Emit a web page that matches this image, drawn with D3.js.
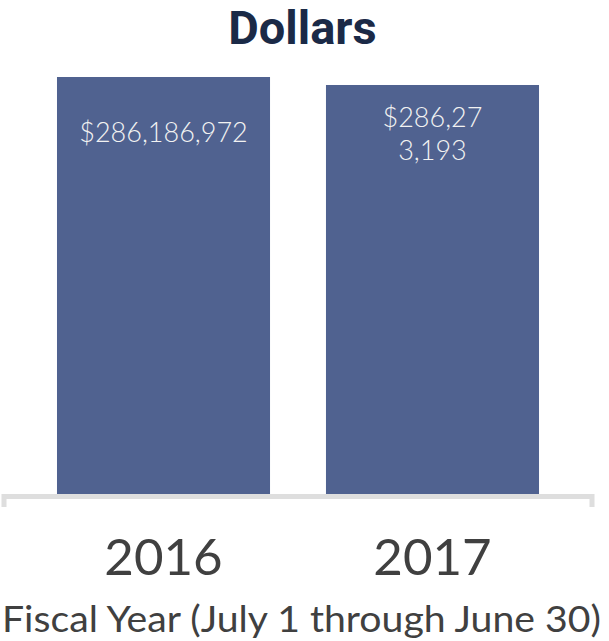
<!DOCTYPE html>
<html>
<head>
<meta charset="utf-8">
<script src="https://cdn.jsdelivr.net/npm/d3@7"></script>
<style>
  html, body { margin: 0; padding: 0; background: #ffffff; }
  svg { display: block; }
</style>
</head>
<body>
<svg id="chart" width="609" height="641"></svg>
<script>
// ---- data ----
const categories = ["2016", "2017"];
// bar heights
const barValues = [286186972, 280700000];
// data labels shown on the bars (line-wrapped as in the original)
const barLabels = [["$286,186,972"], ["$286,27", "3,193"]];
const chartTitle = "Dollars";
const axisTitle = "Fiscal Year (July 1 through June 30)";

// ---- layout ----
const baseY = 494, topY = 77;
const svg = d3.select("#chart");

const x = d3.scaleBand()
  .domain(categories)
  .range([4, 592])
  .paddingInner(0.208)
  .paddingOuter(0.197);

const y = d3.scaleLinear()
  .domain([0, d3.max(barValues)])
  .range([baseY, topY]);

const data = categories.map((c, i) => ({ c, v: barValues[i], lab: barLabels[i] }));

// title
svg.append("text")
  .attr("x", 302.5)
  .attr("y", 44)
  .attr("text-anchor", "middle")
  .attr("font-family", "Roboto, sans-serif")
  .attr("font-weight", 700)
  .attr("font-size", 47)
  .attr("fill", "#1b2a47")
  .text(chartTitle);

// bars
svg.append("g").selectAll("rect")
  .data(data)
  .join("rect")
  .attr("x", d => x(d.c))
  .attr("width", x.bandwidth())
  .attr("y", d => y(d.v))
  .attr("height", d => baseY - y(d.v))
  .attr("fill", "#506290");

// axis line with end ticks
const x0 = x.range()[0], x1 = x.range()[1];
svg.append("path")
  .attr("d", `M${x0},507 V496.5 H${x1} V507`)
  .attr("fill", "none")
  .attr("stroke", "#dedede")
  .attr("stroke-width", 5)
  .attr("stroke-linejoin", "miter");

// data labels
const lbl = svg.append("g").selectAll("text")
  .data(data)
  .join("text")
  .attr("text-anchor", "middle")
  .attr("font-family", "Lato, sans-serif")
  .attr("font-weight", 300)
  .attr("font-size", 27)
  .attr("fill", "#f2f2f2")
  .attr("y", d => y(d.v) + 65 - (d.lab.length - 1) * 23);
lbl.each(function(d) {
  const t = d3.select(this);
  d.lab.forEach((s, i) => {
    t.append("tspan")
      .attr("x", x(d.c) + x.bandwidth() / 2)
      .attr("dy", i === 0 ? 0 : 33.3)
      .text(s);
  });
});

// category labels
svg.append("g").selectAll("text")
  .data(categories)
  .join("text")
  .attr("x", d => x(d) + x.bandwidth() / 2)
  .attr("y", 575)
  .attr("text-anchor", "middle")
  .attr("font-family", "Lato, sans-serif")
  .attr("font-weight", 400)
  .attr("font-size", 51)
  .attr("fill", "#404040")
  .text(d => d);

// axis title
const at = svg.append("text")
  .attr("x", 301.5)
  .attr("y", 631.5)
  .attr("text-anchor", "middle")
  .attr("font-family", "Lato, sans-serif")
  .attr("font-weight", 400)
  .attr("font-size", 36)
  .attr("fill", "#404040")
  .text(axisTitle);
const len = at.node().getComputedTextLength();
if (len > 0) at.attr("textLength", 599).attr("lengthAdjust", "spacingAndGlyphs");
</script>
</body>
</html>
